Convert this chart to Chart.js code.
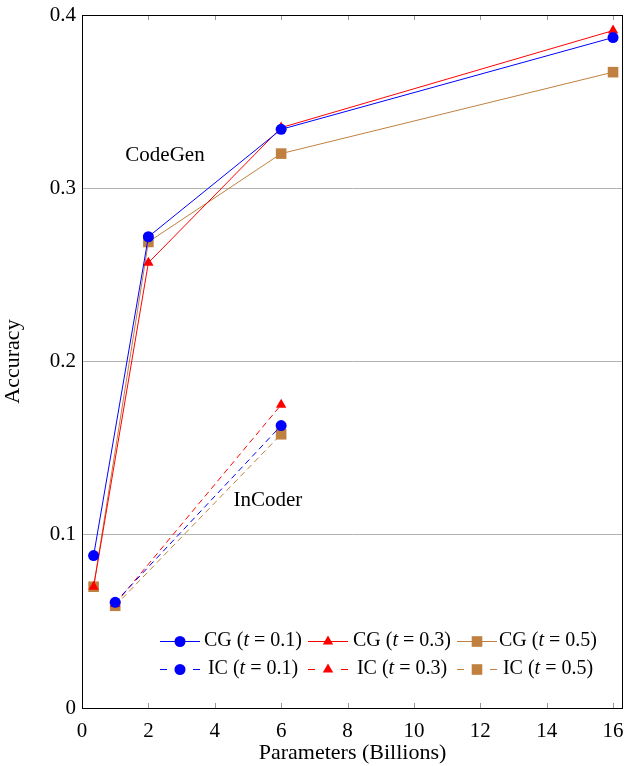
<!DOCTYPE html>
<html>
<head>
<meta charset="utf-8">
<script src="https://cdn.jsdelivr.net/npm/chart.js@4.4.1/dist/chart.umd.min.js"></script>
<style>
  html, body { margin: 0; padding: 0; background: #fff; overflow: hidden; }
</style>
</head>
<body>
<canvas id="myChart" width="624" height="766"></canvas>
<script>
// model sizes (billions of parameters)
var cgParams = [0.35, 2, 6, 16];
var icParams = [1, 6];

// accuracy per temperature
var cgT01 = [0.088, 0.272, 0.334, 0.387];
var cgT03 = [0.070, 0.257, 0.335, 0.391];
var cgT05 = [0.070, 0.269, 0.320, 0.367];
var icT01 = [0.061, 0.163];
var icT03 = [0.060, 0.175];
var icT05 = [0.059, 0.158];

var xTicks = [0, 2, 4, 6, 8, 10, 12, 14, 16];
var yTicks = [0, 0.1, 0.2, 0.3, 0.4];

var legendNames = ['CG', 'CG', 'CG', 'IC', 'IC', 'IC'];
var legendTemps = ['0.1', '0.3', '0.5', '0.1', '0.3', '0.5'];

var blue = '#0000ff', red = '#ff0000', brown = '#bf8040';
var serif = '"Liberation Serif", "DejaVu Serif", serif';

function pts(xs, ys) {
    return xs.map(function (x, i) { return { x: x, y: ys[i] }; });
}

function makeSet(label, xs, ys, color, style, radius, dashed) {
    return {
        label: label,
        data: pts(xs, ys),
        borderColor: color,
        backgroundColor: color,
        borderWidth: 1,
        borderDash: dashed ? [6, 4] : [],
        pointStyle: style,
        pointRadius: radius,
        pointHoverRadius: radius,
        pointBorderWidth: 0,
        tension: 0,
        fill: false
    };
}

var datasets = [
    makeSet('CG 0.1', cgParams, cgT01, blue, 'circle', 5.5, false),
    makeSet('CG 0.3', cgParams, cgT03, red, 'triangle', 6, false),
    makeSet('CG 0.5', cgParams, cgT05, brown, 'rect', 7.5, false),
    makeSet('IC 0.1', icParams, icT01, blue, 'circle', 5.5, true),
    makeSet('IC 0.3', icParams, icT03, red, 'triangle', 6, true),
    makeSet('IC 0.5', icParams, icT05, brown, 'rect', 7.5, true)
];

// text labels inside the plot, in data coordinates
var notes = [
    { text: 'CodeGen', x: 2.5, y: 0.319 },
    { text: 'InCoder', x: 5.6, y: 0.1195 }
];

// pin the plot box: top 15, bottom 708, right edge of the canvas
var stretch = {
    id: 'stretch',
    afterLayout: function (chart) {
        var xs = chart.scales.x, ys = chart.scales.y;
        var a = chart.chartArea;
        var r = chart.width - 1;
        a.right = r;
        a.width = r - a.left;
        xs.right = r;
        xs.width = r - xs.left;
        xs.configure();
        a.top = 15;
        a.height = a.bottom - a.top;
        ys.top = 15;
        ys.height = ys.bottom - ys.top;
        ys.configure();
    }
};

// tick marks, frame, notes and the legend
var decor = {
    id: 'decor',
    afterDraw: function (chart) {
        var c = chart.ctx, a = chart.chartArea;
        var xs = chart.scales.x, ys = chart.scales.y;
        c.save();
        c.strokeStyle = '#999';
        c.lineWidth = 1;
        c.beginPath();
        xTicks.forEach(function (t) {
            var px = Math.round(xs.getPixelForValue(t)) + 0.5;
            c.moveTo(px, a.bottom); c.lineTo(px, a.bottom - 5);
            c.moveTo(px, a.top); c.lineTo(px, a.top + 5);
        });
        c.stroke();

        c.strokeStyle = '#000';
        c.lineWidth = 1;
        c.strokeRect(Math.round(a.left) + 0.5, Math.round(a.top) + 0.5,
                     Math.round(a.right - a.left) - 1, Math.round(a.bottom - a.top));

        c.fillStyle = '#000';
        c.font = '21px ' + serif;
        c.textAlign = 'center';
        c.textBaseline = 'middle';
        notes.forEach(function (n) {
            c.fillText(n.text, xs.getPixelForValue(n.x), ys.getPixelForValue(n.y));
        });

        // legend: 3 columns x 2 rows
        var colLine = [160, 308, 457];
        var colText = [253, 402, 548];
        var rowY = [641, 669];
        chart.data.datasets.forEach(function (ds, i) {
            var col = i % 3, row = Math.floor(i / 3);
            var y = rowY[row];
            var x0 = colLine[col], x1 = x0 + 40;
            c.strokeStyle = ds.borderColor;
            c.lineWidth = 1;
            c.beginPath();
            if (ds.borderDash.length) {
                c.moveTo(x0, y + 0.5); c.lineTo(x0 + 7, y + 0.5);
                c.moveTo(x1 - 7, y + 0.5); c.lineTo(x1, y + 0.5);
            } else {
                c.moveTo(x0, y + 0.5); c.lineTo(x1, y + 0.5);
            }
            c.stroke();
            c.fillStyle = ds.backgroundColor;
            Chart.helpers.drawPoint(c, {
                pointStyle: ds.pointStyle, radius: ds.pointRadius,
                rotation: 0, borderWidth: 0
            }, (x0 + x1) / 2, y + 0.5);

            // "CG (t = 0.1)" with italic t
            var parts = [
                [legendNames[i] + ' (', 'normal'],
                ['t', 'italic'],
                [' = ' + legendTemps[i] + ')', 'normal']
            ];
            var w = 0;
            parts.forEach(function (p) {
                c.font = p[1] + ' 20px ' + serif;
                w += c.measureText(p[0]).width;
            });
            var tx = colText[col] - w / 2;
            c.fillStyle = '#000';
            c.textAlign = 'left';
            parts.forEach(function (p) {
                c.font = p[1] + ' 20px ' + serif;
                c.fillText(p[0], tx, y);
                tx += c.measureText(p[0]).width;
            });
        });
        c.restore();
    }
};

var ctx = document.getElementById('myChart').getContext('2d');
var myChart = new Chart(ctx, {
    type: 'line',
    data: { datasets: datasets },
    options: {
        responsive: false,
        animation: false,
        events: [],
        layout: { padding: { top: 15, right: 1, left: 0, bottom: 0 } },
        plugins: {
            legend: { display: false },
            tooltip: { enabled: false }
        },
        scales: {
            x: {
                type: 'linear',
                min: 0,
                max: 16.3,
                afterFit: function (s) { s.height = 58; },
                afterBuildTicks: function (s) {
                    s.ticks = xTicks.map(function (v) { return { value: v }; });
                },
                grid: { display: false },
                border: { display: false },
                ticks: {
                    color: '#000',
                    padding: 3,
                    font: { family: serif, size: 21 },
                    maxRotation: 0
                },
                title: {
                    display: true,
                    text: 'Parameters (Billions)',
                    color: '#000',
                    font: { family: serif, size: 22 },
                    padding: { top: 2, bottom: 0 }
                }
            },
            y: {
                min: 0,
                max: 0.4,
                afterFit: function (s) { s.width = 82; },
                afterBuildTicks: function (s) {
                    s.ticks = yTicks.map(function (v) { return { value: v }; });
                },
                grid: {
                    color: '#b3b3b3',
                    lineWidth: 1,
                    drawTicks: false
                },
                border: { display: false },
                ticks: {
                    color: '#000',
                    padding: 6,
                    font: { family: serif, size: 21 },
                    callback: function (v) { return v === 0 ? '0' : v.toFixed(1); }
                },
                title: {
                    display: true,
                    text: 'Accuracy',
                    color: '#000',
                    font: { family: serif, size: 22 },
                    padding: { top: 0, bottom: 6 }
                }
            }
        }
    },
    plugins: [stretch, decor]
});
</script>
</body>
</html>
